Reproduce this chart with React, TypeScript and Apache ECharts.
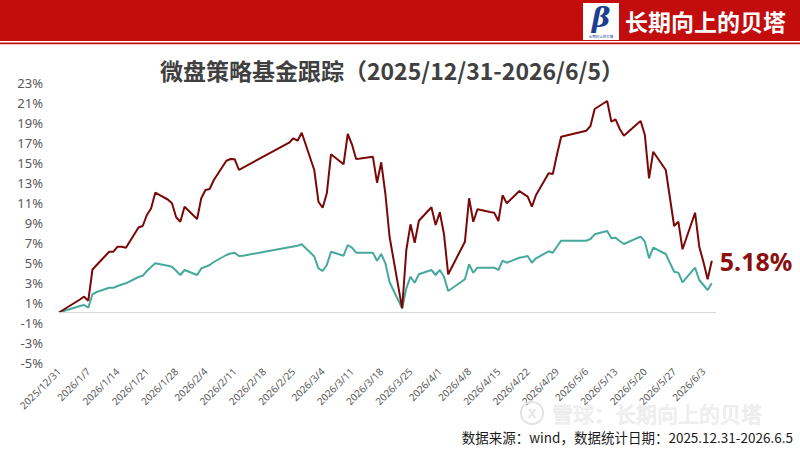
import React, { useEffect, useRef } from 'react';
import * as echarts from 'echarts';

// Trading dates (calendar-day axis, like the original date axis)
const tradeDates = [
  '2025/12/31',
  '2026/1/5', '2026/1/6', '2026/1/7', '2026/1/8', '2026/1/9',
  '2026/1/12', '2026/1/13', '2026/1/14', '2026/1/15', '2026/1/16',
  '2026/1/19', '2026/1/20', '2026/1/21', '2026/1/22', '2026/1/23',
  '2026/1/26', '2026/1/27', '2026/1/28', '2026/1/29', '2026/1/30',
  '2026/2/2', '2026/2/3', '2026/2/4', '2026/2/5', '2026/2/6',
  '2026/2/9', '2026/2/10', '2026/2/11', '2026/2/12', '2026/2/13',
  '2026/2/24', '2026/2/25', '2026/2/26', '2026/2/27',
  '2026/3/2', '2026/3/3', '2026/3/4', '2026/3/5', '2026/3/6',
  '2026/3/9', '2026/3/10', '2026/3/11', '2026/3/12', '2026/3/13',
  '2026/3/16', '2026/3/17', '2026/3/18', '2026/3/19', '2026/3/20',
  '2026/3/23', '2026/3/24', '2026/3/25', '2026/3/26', '2026/3/27',
  '2026/3/30', '2026/3/31', '2026/4/1', '2026/4/2', '2026/4/3',
  '2026/4/7', '2026/4/8', '2026/4/9', '2026/4/10',
  '2026/4/13', '2026/4/14', '2026/4/15', '2026/4/16', '2026/4/17',
  '2026/4/20', '2026/4/21', '2026/4/22', '2026/4/23', '2026/4/24',
  '2026/4/27', '2026/4/28', '2026/4/29', '2026/4/30',
  '2026/5/6', '2026/5/7', '2026/5/8',
  '2026/5/11', '2026/5/12', '2026/5/13', '2026/5/14', '2026/5/15',
  '2026/5/18', '2026/5/19', '2026/5/20', '2026/5/21', '2026/5/22',
  '2026/5/25', '2026/5/26', '2026/5/27', '2026/5/28', '2026/5/29',
  '2026/6/1', '2026/6/2', '2026/6/3', '2026/6/4', '2026/6/5',
];

// 微盘策略基金 cumulative return (%), dark red line
const fundReturns = [
  0,
  1.30, 1.58, 1.18, 4.30, 4.75,
  6.08, 6.08, 6.58, 6.58, 6.48,
  8.50, 8.65, 9.75, 10.40, 11.98,
  11.30, 10.92, 9.52, 9.08, 10.58,
  9.35, 11.42, 12.25, 12.35, 13.25,
  15.18, 15.35, 15.32, 14.25, 14.49,
  16.98, 17.42, 17.18, 17.98,
  14.25, 11.08, 10.48, 11.92, 15.82,
  14.82, 17.85, 16.82, 15.35, 15.40,
  15.58, 12.98, 15.02, 11.85, 7.55,
  0.42, 6.25, 8.82, 6.98, 9.18,
  10.52, 8.75, 10.02, 7.82, 3.82,
  7.08, 11.42, 9.08, 10.32,
  10.04, 9.98, 9.15, 11.72, 10.92,
  12.15, 11.86, 11.58, 10.58, 11.75,
  13.92, 13.85, 15.80, 17.58,
  18.18, 18.65, 20.35,
  21.15, 19.08, 19.32, 18.35, 17.68,
  18.80, 19.15, 17.75, 13.42, 16.08,
  14.25, 11.45, 8.65, 9.08, 6.32,
  9.98, 6.58, 5.05, 3.32, 5.18,
];

// comparison index cumulative return (%), teal line
const benchReturns = [
  0,
  0.65, 0.75, 0.48, 1.82, 2.05,
  2.48, 2.48, 2.65, 2.80, 2.92,
  3.55, 3.67, 4.15, 4.55, 4.92,
  4.68, 4.58, 4.18, 3.75, 4.25,
  3.75, 4.40, 4.58, 4.75, 5.05,
  5.75, 5.90, 5.97, 5.65, 5.68,
  6.52, 6.60, 6.68, 6.82,
  5.60, 4.42, 4.15, 4.75, 6.08,
  5.68, 6.75, 6.48, 5.98, 5.98,
  5.98, 5.18, 5.85, 4.92, 3.02,
  0.42, 2.42, 3.58, 2.98, 3.82,
  4.25, 3.75, 4.25, 3.58, 2.15,
  3.32, 4.82, 3.98, 4.48,
  4.48, 4.48, 4.25, 5.18, 4.98,
  5.48, 5.56, 5.65, 4.98, 5.42,
  6.12, 5.98, 6.60, 7.18,
  7.18, 7.35, 7.82,
  8.15, 7.42, 7.48, 7.15, 6.85,
  7.42, 7.58, 7.08, 5.42, 6.48,
  5.85, 4.95, 4.08, 3.98, 3.02,
  4.48, 3.25, 2.75, 2.25, 2.92,
];

const titleText = '微盘策略基金跟踪（2025/12/31-2026/6/5）';
const headerText = '长期向上的贝塔';
const sourceText = '数据来源：wind，数据统计日期：2025.12.31-2026.6.5';
const watermarkText = '雪球：长期向上的贝塔';

const START = Date.UTC(2025, 11, 31);
const DAY = 86400000;
const dayIndex = (s: string) => {
  const [y, m, d] = s.split('/').map(Number);
  return Math.round((Date.UTC(y, m - 1, d) - START) / DAY);
};
const dayLabel = (i: number) => {
  const dt = new Date(START + i * DAY);
  return `${dt.getUTCFullYear()}/${dt.getUTCMonth() + 1}/${dt.getUTCDate()}`;
};

const LAST_DAY = dayIndex(tradeDates[tradeDates.length - 1]);
const FONT = '"Noto Sans", "Noto Sans CJK SC", sans-serif';
const CJK = '"Noto Sans CJK SC", "Noto Sans", sans-serif';

export default function App() {
  const ref = useRef<HTMLDivElement>(null);
  useEffect(() => {
    if (!ref.current) return;
    const chart = echarts.init(ref.current, null, { renderer: 'svg' });
    const fundData = tradeDates.map((d, i) => [dayIndex(d), fundReturns[i]]);
    const benchData = tradeDates.map((d, i) => [dayIndex(d), benchReturns[i]]);
    chart.setOption({
      animation: false,
      backgroundColor: '#ffffff',
      grid: { left: 59, right: 84, top: 82.5, bottom: 87.5 },
      xAxis: {
        type: 'value',
        min: 0,
        max: LAST_DAY + 1,
        interval: 7,
        axisLine: { show: false, onZero: false },
        axisTick: { show: false },
        splitLine: { show: false },
        axisLabel: {
          rotate: 45,
          fontSize: 10,
          color: '#595959',
          fontFamily: FONT,
          margin: 7,
          showMaxLabel: false,
          formatter: (v: number) => (v % 7 === 0 && v <= LAST_DAY ? dayLabel(v) : ''),
        },
      },
      yAxis: {
        type: 'value',
        min: -5,
        max: 23,
        interval: 2,
        axisLine: { show: false },
        axisTick: { show: false },
        splitLine: { show: false },
        axisLabel: {
          formatter: '{value}%',
          fontSize: 13,
          color: '#595959',
          fontFamily: FONT,
          margin: 16,
        },
      },
      series: [
        {
          name: '对照指数',
          type: 'line',
          data: benchData,
          showSymbol: false,
          lineStyle: { color: '#45A99D', width: 2 },
          itemStyle: { color: '#45A99D' },
          markLine: {
            silent: true,
            symbol: 'none',
            label: { show: false },
            lineStyle: { color: '#d9d9d9', width: 1, type: 'solid' },
            data: [{ yAxis: 0 }],
          },
          z: 2,
        },
        {
          name: '微盘策略基金',
          type: 'line',
          data: fundData,
          showSymbol: false,
          lineStyle: { color: '#7A0808', width: 2 },
          itemStyle: { color: '#7A0808' },
          endLabel: {
            show: true,
            distance: 8,
            formatter: (p: any) => `${Number(p.value[1]).toFixed(2)}%`,
            color: '#8B0F0F',
            fontSize: 25,
            fontWeight: 'bold',
            fontFamily: FONT,
          },
          z: 3,
        },
      ],
      graphic: [
        { type: 'rect', shape: { x: 0, y: 0, width: 800, height: 41 }, style: { fill: '#C30D0D' }, z: 10 },
        { type: 'rect', shape: { x: 0, y: 42.5, width: 800, height: 1.8 }, style: { fill: '#C30D0D' }, z: 10 },
        { type: 'rect', shape: { x: 583, y: 3, width: 36, height: 37 }, style: { fill: '#ffffff' }, z: 11 },
        {
          type: 'text', x: 601, y: 17, z: 12,
          style: {
            text: 'β', fill: '#1D3E8E', font: 'italic bold 28px "DejaVu Serif", serif',
            textAlign: 'center', textVerticalAlign: 'middle',
          },
        },
        {
          type: 'text', x: 601, y: 36.5, z: 12,
          style: { text: '长期向上的贝塔', fill: '#1D3E8E', font: `3.5px ${CJK}`, textAlign: 'center', textVerticalAlign: 'middle' },
        },
        {
          type: 'text', x: 625, y: 21, z: 12,
          style: { text: headerText, fill: '#ffffff', font: `bold 23px ${CJK}`, textAlign: 'left', textVerticalAlign: 'middle' },
        },
        {
          type: 'text', x: 392, y: 70, z: 12,
          style: { text: titleText, fill: '#404040', font: `bold 23px ${CJK}`, textAlign: 'center', textVerticalAlign: 'middle' },
        },
        {
          type: 'circle', shape: { cx: 532, cy: 413, r: 11 }, z: 1,
          style: { fill: 'none', stroke: '#e3e3e3', lineWidth: 2 },
        },
        {
          type: 'text', x: 532, y: 413, z: 1,
          style: { text: 'X', fill: '#e6e6e6', font: `bold 13px ${FONT}`, textAlign: 'center', textVerticalAlign: 'middle' },
        },
        {
          type: 'text', x: 552, y: 413, z: 1,
          style: { text: watermarkText, fill: '#efefef', stroke: '#dddddd', lineWidth: 0.5, font: `21px ${CJK}`, textAlign: 'left', textVerticalAlign: 'middle' },
        },
        {
          type: 'text', x: 793, y: 437, z: 12,
          style: { text: sourceText, fill: '#1a1a1a', font: `13.5px ${CJK}`, textAlign: 'right', textVerticalAlign: 'middle' },
        },
      ],
    });
    return () => chart.dispose();
  }, []);
  return (
    <div
      ref={ref}
      style={{ position: 'fixed', left: 0, top: 0, width: 800, height: 450, background: '#fff' }}
    />
  );
}
